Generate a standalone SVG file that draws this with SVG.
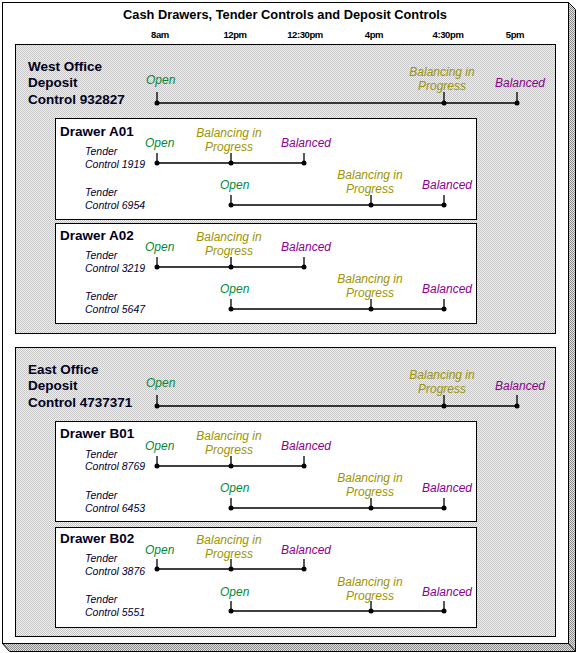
<svg xmlns="http://www.w3.org/2000/svg" width="576" height="653" viewBox="0 0 576 653">
<style>
text{font-family:"Liberation Sans",Arial,sans-serif}
.title{font-size:13px;font-weight:bold;fill:#000}
.time{font-size:9.5px;font-weight:bold;fill:#000;text-anchor:middle;letter-spacing:-0.4px}
.dep{font-size:13.5px;font-weight:bold;fill:#000022}
.drw{font-size:13.5px;font-weight:bold;fill:#000022}
.tc{font-size:10.5px;font-style:italic;fill:#000033}
.open{font-size:12px;font-style:italic;fill:#008a3c}
.bip{font-size:12px;font-style:italic;fill:#9c9400;text-anchor:middle}
.bal{font-size:12px;font-style:italic;fill:#8e008e;text-anchor:middle}
.sect{fill:url(#dots);stroke:#000;stroke-width:1}
.box{fill:#fff;stroke:#000;stroke-width:1}
.tl{stroke:#000;stroke-width:1.3;fill:none}
.dot{fill:#000}
</style>
<defs>
<pattern id="dots" width="2" height="2" patternUnits="userSpaceOnUse">
<rect width="2" height="2" fill="#f2f2f2"/>
<rect width="1" height="1" fill="#c4c4c4"/>
<rect x="1" y="1" width="1" height="1" fill="#c4c4c4"/>
</pattern>
<pattern id="shade" width="2" height="2" patternUnits="userSpaceOnUse">
<rect width="2" height="2" fill="#e0e0e0"/>
<rect width="1" height="1" fill="#8c8c8c"/>
<rect x="1" y="1" width="1" height="1" fill="#8c8c8c"/>
</pattern>
</defs>

<g id="frame">
<polygon points="568.5,2.5 575.5,9.5 575.5,651.5 9.5,651.5 2.5,643.5 568.5,643.5" fill="url(#shade)" stroke="#000" stroke-width="1"/>
<rect x="2.5" y="2.5" width="566" height="641" fill="#fff" stroke="#000" stroke-width="1"/>
<line x1="568.5" y1="643.5" x2="575.5" y2="651.5" stroke="#000" stroke-width="1"/>
<text class="title" x="285" y="19" text-anchor="middle" textLength="324" lengthAdjust="spacingAndGlyphs">Cash Drawers, Tender Controls and Deposit Controls</text>
</g>

<g id="timescale">
<text class="time" x="160" y="38">8am</text>
<text class="time" x="235" y="38">12pm</text>
<text class="time" x="305" y="38">12:30pm</text>
<text class="time" x="374" y="38">4pm</text>
<text class="time" x="448" y="38">4:30pm</text>
<text class="time" x="515" y="38">5pm</text>
</g>

<!-- WEST -->
<g id="west-office">
<rect class="sect" x="15.5" y="44.5" width="540" height="289"/>
<text class="dep" x="28" y="71">West Office</text>
<text class="dep" x="28" y="87">Deposit</text>
<text class="dep" x="28" y="104">Control 932827</text>
<text class="open" x="146" y="84">Open</text>
<text class="bip" x="442" y="76">Balancing in</text>
<text class="bip" x="442" y="90">Progress</text>
<text class="bal" x="520" y="87">Balanced</text>
</g>

<g id="drawer-a01">
<rect class="box" x="55.5" y="118.5" width="421" height="101"/>
<text class="drw" x="60" y="136">Drawer A01</text>
<text class="tc" x="85" y="155">Tender</text>
<text class="tc" x="85" y="168">Control 1919</text>
<text class="open" x="145" y="147">Open</text>
<text class="bip" x="229" y="137">Balancing in</text>
<text class="bip" x="229" y="151">Progress</text>
<text class="bal" x="306" y="147">Balanced</text>
<text class="tc" x="85" y="196">Tender</text>
<text class="tc" x="85" y="209">Control 6954</text>
<text class="open" x="220" y="189">Open</text>
<text class="bip" x="370" y="179">Balancing in</text>
<text class="bip" x="370" y="193">Progress</text>
<text class="bal" x="447" y="189">Balanced</text>
</g>

<g id="drawer-a02">
<rect class="box" x="55.5" y="223.5" width="421" height="100"/>
<text class="drw" x="60" y="240">Drawer A02</text>
<text class="tc" x="85" y="259">Tender</text>
<text class="tc" x="85" y="272">Control 3219</text>
<text class="open" x="145" y="251">Open</text>
<text class="bip" x="229" y="241">Balancing in</text>
<text class="bip" x="229" y="255">Progress</text>
<text class="bal" x="306" y="251">Balanced</text>
<text class="tc" x="85" y="300">Tender</text>
<text class="tc" x="85" y="313">Control 5647</text>
<text class="open" x="220" y="293">Open</text>
<text class="bip" x="370" y="283">Balancing in</text>
<text class="bip" x="370" y="297">Progress</text>
<text class="bal" x="447" y="293">Balanced</text>
</g>

<!-- EAST -->
<g id="east-office">
<rect class="sect" x="15.5" y="347.5" width="540" height="289"/>
<text class="dep" x="28" y="374">East Office</text>
<text class="dep" x="28" y="390">Deposit</text>
<text class="dep" x="28" y="407">Control 4737371</text>
<text class="open" x="146" y="387">Open</text>
<text class="bip" x="442" y="379">Balancing in</text>
<text class="bip" x="442" y="393">Progress</text>
<text class="bal" x="520" y="390">Balanced</text>
</g>

<g id="drawer-b01">
<rect class="box" x="55.5" y="421.5" width="421" height="100"/>
<text class="drw" x="60" y="438">Drawer B01</text>
<text class="tc" x="85" y="458">Tender</text>
<text class="tc" x="85" y="470">Control 8769</text>
<text class="open" x="145" y="450">Open</text>
<text class="bip" x="229" y="440">Balancing in</text>
<text class="bip" x="229" y="454">Progress</text>
<text class="bal" x="306" y="450">Balanced</text>
<text class="tc" x="85" y="499">Tender</text>
<text class="tc" x="85" y="512">Control 6453</text>
<text class="open" x="220" y="492">Open</text>
<text class="bip" x="370" y="482">Balancing in</text>
<text class="bip" x="370" y="496">Progress</text>
<text class="bal" x="447" y="492">Balanced</text>
</g>

<g id="drawer-b02">
<rect class="box" x="55.5" y="527.5" width="421" height="100"/>
<text class="drw" x="60" y="543">Drawer B02</text>
<text class="tc" x="85" y="562">Tender</text>
<text class="tc" x="85" y="575">Control 3876</text>
<text class="open" x="145" y="554">Open</text>
<text class="bip" x="229" y="544">Balancing in</text>
<text class="bip" x="229" y="558">Progress</text>
<text class="bal" x="306" y="554">Balanced</text>
<text class="tc" x="85" y="603">Tender</text>
<text class="tc" x="85" y="616">Control 5551</text>
<text class="open" x="220" y="596">Open</text>
<text class="bip" x="370" y="586">Balancing in</text>
<text class="bip" x="370" y="600">Progress</text>
<text class="bal" x="447" y="596">Balanced</text>
</g>

<g id="connectors">
<!-- West deposit -->
<path class="tl" d="M157,103H517M157,92V103M444,92V103M517,92V103"/>
<!-- A01 -->
<path class="tl" d="M157,163H304M157,153V163M231,153V163M304,153V163"/>
<path class="tl" d="M231,205H444M231,195V205M371,195V205M444,195V205"/>
<!-- A02 -->
<path class="tl" d="M157,267H304M157,257V267M231,257V267M304,257V267"/>
<path class="tl" d="M231,309H444M231,299V309M371,299V309M444,299V309"/>
<!-- East deposit -->
<path class="tl" d="M157,406H517M157,395V406M444,395V406M517,395V406"/>
<!-- B01 -->
<path class="tl" d="M157,466H304M157,456V466M231,456V466M304,456V466"/>
<path class="tl" d="M231,508H444M231,498V508M371,498V508M444,498V508"/>
<!-- B02 -->
<path class="tl" d="M157,569H304M157,559V569M231,559V569M304,559V569"/>
<path class="tl" d="M231,611H444M231,601V611M371,601V611M444,601V611"/>
<g class="dot">
<circle cx="157" cy="103" r="2.5"/><circle cx="444" cy="103" r="2.5"/><circle cx="517" cy="103" r="2.5"/>
<circle cx="157" cy="163" r="2.5"/><circle cx="231" cy="163" r="2.5"/><circle cx="304" cy="163" r="2.5"/>
<circle cx="231" cy="205" r="2.5"/><circle cx="371" cy="205" r="2.5"/><circle cx="444" cy="205" r="2.5"/>
<circle cx="157" cy="267" r="2.5"/><circle cx="231" cy="267" r="2.5"/><circle cx="304" cy="267" r="2.5"/>
<circle cx="231" cy="309" r="2.5"/><circle cx="371" cy="309" r="2.5"/><circle cx="444" cy="309" r="2.5"/>
<circle cx="157" cy="406" r="2.5"/><circle cx="444" cy="406" r="2.5"/><circle cx="517" cy="406" r="2.5"/>
<circle cx="157" cy="466" r="2.5"/><circle cx="231" cy="466" r="2.5"/><circle cx="304" cy="466" r="2.5"/>
<circle cx="231" cy="508" r="2.5"/><circle cx="371" cy="508" r="2.5"/><circle cx="444" cy="508" r="2.5"/>
<circle cx="157" cy="569" r="2.5"/><circle cx="231" cy="569" r="2.5"/><circle cx="304" cy="569" r="2.5"/>
<circle cx="231" cy="611" r="2.5"/><circle cx="371" cy="611" r="2.5"/><circle cx="444" cy="611" r="2.5"/>
</g>
</g>
</svg>
